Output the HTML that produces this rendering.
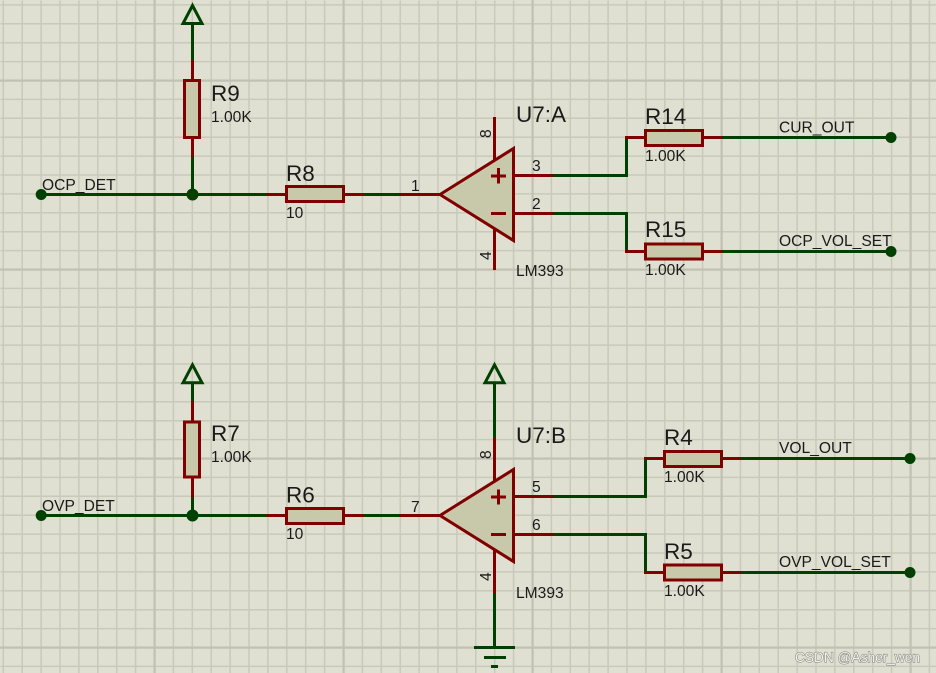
<!DOCTYPE html>
<html><head><meta charset="utf-8">
<style>
html,body{margin:0;padding:0;background:#dfe0d1}
svg{display:block}
text{font-family:"Liberation Sans",sans-serif;fill:#1a1a1a}
.b{font-size:22.5px}.s{font-size:15.6px}
.g{stroke:#004000;stroke-width:3;fill:none}
.r{stroke:#800000;stroke-width:3;fill:none}
.c{stroke:#800000;stroke-width:3;fill:#c8c9ab}
.d{fill:#004000}
</style></head><body>
<svg width="936" height="673" viewBox="0 0 936 673" xmlns="http://www.w3.org/2000/svg">
<rect width="936" height="673" fill="#dfe0d1"/>
<g transform="translate(0.5,0.5)" fill="none" stroke="#c8c9ba" stroke-width="1.5">
<path d="M2.8 0V673M21.7 0V673M40.6 0V673M59.5 0V673M78.4 0V673M97.3 0V673M116.2 0V673M135.1 0V673M172.9 0V673M191.8 0V673M210.7 0V673M229.6 0V673M248.5 0V673M267.4 0V673M286.3 0V673M305.2 0V673M324.1 0V673M361.9 0V673M380.8 0V673M399.7 0V673M418.6 0V673M437.5 0V673M456.4 0V673M475.3 0V673M494.2 0V673M513.1 0V673M550.9 0V673M569.8 0V673M588.7 0V673M607.6 0V673M626.5 0V673M645.4 0V673M664.3 0V673M683.2 0V673M702.1 0V673M739.9 0V673M758.8 0V673M777.7 0V673M796.6 0V673M815.5 0V673M834.4 0V673M853.3 0V673M872.2 0V673M891.1 0V673M928.9 0V673"/>
<path d="M0 4.4H936M0 23.3H936M0 42.2H936M0 61.1H936M0 98.9H936M0 117.8H936M0 136.7H936M0 155.6H936M0 174.5H936M0 193.4H936M0 212.3H936M0 231.2H936M0 250.1H936M0 287.9H936M0 306.8H936M0 325.7H936M0 344.6H936M0 363.5H936M0 382.4H936M0 401.3H936M0 420.2H936M0 439.1H936M0 476.9H936M0 495.8H936M0 514.7H936M0 533.6H936M0 552.5H936M0 571.4H936M0 590.3H936M0 609.2H936M0 628.1H936M0 665.9H936"/>
</g>
<g fill="#c0c1b2">
<rect x="153.5" y="0" width="2.2" height="673"/><rect x="342.5" y="0" width="2.2" height="673"/><rect x="531.5" y="0" width="2.2" height="673"/><rect x="720.5" y="0" width="2.2" height="673"/><rect x="909.5" y="0" width="2.2" height="673"/>
<rect x="0" y="79.5" width="936" height="2.2"/><rect x="0" y="268.5" width="936" height="2.2"/><rect x="0" y="457.5" width="936" height="2.2"/><rect x="0" y="646.5" width="936" height="2.2"/>
</g>

<!-- top section -->
<path class="g" d="M192.5 24V60M192.5 157V194.5M41 194.5H266M364 194.5H400"/>
<path class="g" d="M183 23.5H202L192.5 5.5Z"/>
<path class="r" d="M192.5 60V80M192.5 137V157M266 194.5H286M344 194.5H364"/>
<rect class="c" x="184.5" y="80.5" width="15" height="57"/>
<rect class="c" x="286.5" y="186.5" width="57" height="15"/>
<circle class="d" cx="41.2" cy="194.5" r="5.5"/><circle class="d" cx="192.5" cy="194.5" r="6"/>
<text class="s" x="42" y="190">OCP_DET</text>
<text class="b" x="211" y="101">R9</text><text class="s" x="211" y="122">1.00K</text>
<text class="b" x="286" y="181">R8</text><text class="s" x="286" y="218">10</text>

<path class="r" d="M400 194.5H440M494.5 117V160M494.5 229V270M513 175.5H553M513 213.5H553"/>
<path class="c" d="M440 194.5L513.5 148.5V240.5Z"/>
<path class="r" d="M491 176H506M498.5 168V183.5M491 213.5H506"/>
<path class="g" d="M553 175.5H626.5V137.5M553 213.5H626.5V251.5"/>
<path class="r" d="M625 137.5H645M703 137.5H722M625 251.5H645M703 251.5H722"/>
<rect class="c" x="645.5" y="130.5" width="57" height="15"/>
<rect class="c" x="645.5" y="244" width="57" height="15"/>
<path class="g" d="M722 137.5H891M722 251.5H891"/>
<circle class="d" cx="891" cy="137.5" r="5.5"/><circle class="d" cx="891" cy="251.5" r="5.5"/>
<text class="s" x="411" y="191">1</text><text class="s" x="532" y="171">3</text><text class="s" x="532" y="209">2</text>
<text class="s" transform="translate(491,138) rotate(-90)">8</text><text class="s" transform="translate(491,260) rotate(-90)">4</text>
<text class="b" x="516" y="122">U7:A</text><text class="s" x="516" y="276">LM393</text>
<text class="b" x="645" y="124">R14</text><text class="s" x="645" y="161">1.00K</text>
<text class="b" x="645" y="237">R15</text><text class="s" x="645" y="275">1.00K</text>
<text class="s" x="779" y="132.5">CUR_OUT</text><text class="s" x="779" y="246">OCP_VOL_SET</text>

<!-- bottom section -->
<path class="g" d="M192.5 383V401M192.5 497V515.5M41 515.5H266M364 515.5H400"/>
<path class="g" d="M183 382.8H202L192.5 364.8Z"/>
<path class="r" d="M192.5 401V421M192.5 478V497.5M266 515.5H286M344 515.5H364"/>
<rect class="c" x="184.5" y="422" width="15" height="55"/>
<rect class="c" x="286.5" y="508.5" width="57" height="15"/>
<circle class="d" cx="41.2" cy="515.5" r="5.5"/><circle class="d" cx="192.5" cy="515.5" r="6"/>
<text class="s" x="42" y="511">OVP_DET</text>
<text class="b" x="211" y="441">R7</text><text class="s" x="211" y="462">1.00K</text>
<text class="b" x="286" y="502.5">R6</text><text class="s" x="286" y="539">10</text>

<path class="g" d="M494.5 383V438M494.5 593V647"/>
<path class="g" d="M485 382.8H504L494.5 364.8Z"/>
<path class="r" d="M400 515.5H440M494.5 438V481M494.5 550V593M513 496.5H553M513 534.5H553"/>
<path class="c" d="M440 515.5L513.5 469.5V561.5Z"/>
<path class="r" d="M491 497H506M498.5 489.5V504.5M491 534.5H506"/>
<path class="g" d="M553 496.5H645.5V458.5M553 534.5H645.5V572.5"/>
<path class="r" d="M644 458.5H664M722 458.5H741M644 572.5H664M722 572.5H741"/>
<rect class="c" x="664.5" y="451.5" width="57" height="15"/>
<rect class="c" x="664.5" y="565" width="57" height="15"/>
<path class="g" d="M741 458.5H910M741 572.5H910"/>
<circle class="d" cx="910" cy="458.5" r="5.5"/><circle class="d" cx="910" cy="572.5" r="5.5"/>
<path class="g" d="M474 647.5H515M484 657.5H506M491 666.5H498"/>
<text class="s" x="411" y="512">7</text><text class="s" x="532" y="492">5</text><text class="s" x="532" y="530">6</text>
<text class="s" transform="translate(491,459) rotate(-90)">8</text><text class="s" transform="translate(491,581) rotate(-90)">4</text>
<text class="b" x="516" y="443">U7:B</text><text class="s" x="516" y="598">LM393</text>
<text class="b" x="664" y="445">R4</text><text class="s" x="664" y="482">1.00K</text>
<text class="b" x="664" y="559">R5</text><text class="s" x="664" y="596">1.00K</text>
<text class="s" x="779" y="453">VOL_OUT</text><text class="s" x="779" y="567">OVP_VOL_SET</text>

<text x="795" y="662" style="font-size:13.7px;fill:#f2f2ec;paint-order:stroke;stroke:#8f8f88;stroke-width:1.2px">CSDN @Asher_wen</text>
</svg>
</body></html>
